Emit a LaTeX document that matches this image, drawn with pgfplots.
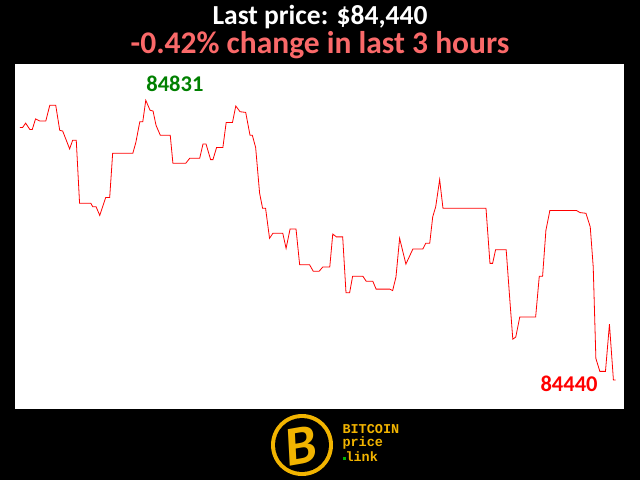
\documentclass[border=0pt]{standalone}
\usepackage{pgfplots}
\pgfplotsset{compat=1.18}
\usepackage{fontspec}
\setmainfont{Carlito}
\newfontfamily\monofont{Liberation Mono}
\definecolor{salmon}{RGB}{250,105,105}
\definecolor{gold}{RGB}{242,180,0}
\definecolor{dkgreen}{RGB}{0,128,0}
\begin{document}
\begin{tikzpicture}[x=1pt,y=1pt]
\fill[black] (0,0) rectangle (640,480);
\node[white,anchor=base,inner sep=0pt,text depth=0pt,font=\fontsize{27.5}{27.5}\selectfont\bfseries] at (320,455) {Last price: \$84,440};
\node[salmon,anchor=base,inner sep=0pt,text height=20pt,font=\fontsize{31.5}{31.5}\selectfont\bfseries] at (320,426.7) {-0.42\% change in last 3 hours};
\begin{axis}[
  at={(15pt,71pt)}, anchor=south west,
  scale only axis, width=609pt, height=345pt,
  xmin=-1.51, xmax=182.5, ymin=84399.4, ymax=84881.7,
  axis line style={draw=none}, ticks=none,
  axis background/.style={fill=white},
  clip=true,
]
\addplot[red, line width=0.8pt] coordinates {
(0,84793) (0.8,84793) (1.7,84799) (3.0,84790) (3.7,84790) (4.7,84805)
(6.0,84802) (7.8,84802) (9.0,84824) (10.8,84824) (12.0,84789) (12.9,84788)
(15.0,84763) (15.9,84775) (17.0,84775) (18.0,84687) (21.4,84687) (22.0,84682)
(23.0,84682) (24.1,84670) (25.9,84695) (27.1,84695) (28.0,84757) (34.1,84757)
(35.0,84772) (36.2,84801) (37.1,84801) (38.0,84831) (39.3,84817) (40.2,84816)
(41.1,84796) (42.4,84782) (45.4,84782) (46.2,84743) (50.1,84743) (51.3,84750)
(54.3,84750) (55.3,84770) (56.2,84770) (57.6,84748) (58.3,84748) (59.4,84765)
(61.3,84765) (62.3,84800) (64.2,84800) (65.2,84823) (66.5,84815) (68.2,84814)
(69.5,84782) (70.2,84782) (71.2,84765) (72.4,84701) (73.3,84680) (74.2,84680)
(75.4,84638) (76.4,84645) (79.4,84645) (80.4,84624) (81.6,84651) (83.4,84651)
(84.5,84601) (87.5,84601) (88.6,84592) (90.4,84592) (91.5,84598) (93.6,84598)
(94.5,84644) (95.6,84640) (97.5,84640) (98.5,84562) (99.6,84562) (100.5,84585)
(103.6,84585) (104.6,84578) (106.6,84578) (107.6,84567) (111.7,84567) (112.6,84565)
(113.6,84584) (114.7,84638) (116.6,84602) (118.7,84623) (121.7,84623) (122.6,84631)
(123.8,84631) (124.7,84668) (125.6,84682) (126.8,84720) (127.8,84680) (140.8,84680)
(142.0,84603) (142.8,84603) (143.7,84622) (146.9,84622) (148.0,84552) (148.9,84497)
(149.8,84500) (151.0,84528) (155.8,84528) (156.9,84585) (157.9,84585) (158.9,84649)
(160.1,84677) (168.1,84677) (169.2,84674) (171.0,84673) (172.3,84654) (173.2,84598)
(174.0,84470) (175.2,84452) (176.9,84452) (178.1,84518) (179.3,84440) (180,84440)
};
\node[dkgreen,font=\fontsize{22.5}{22.5}\selectfont\bfseries] at (axis cs:46.8,84853.8) {84831};
\node[red,font=\fontsize{22.5}{22.5}\selectfont\bfseries] at (axis cs:165.9,84434.4) {84440};
\end{axis}
% logo
\fill[gold] (302,35) circle (31);
\fill[black] (302,35) circle (27);
\node[gold,font=\fontsize{56}{56}\selectfont\bfseries\itshape,rotate=10] at (301,34) {B};
\node[gold,font=\monofont\fontsize{13.5}{13.5}\selectfont\bfseries,anchor=west] at (339,51) {BITCOIN};
\node[gold,font=\monofont\fontsize{13.5}{13.5}\selectfont\bfseries,anchor=west] at (339,37) {price};
\node[gold,font=\monofont\fontsize{13.5}{13.5}\selectfont\bfseries,anchor=west] at (339,23) {\textcolor{green!70!black}{\raisebox{2pt}{\rule{3pt}{3pt}}}link};
\end{tikzpicture}
\end{document}
